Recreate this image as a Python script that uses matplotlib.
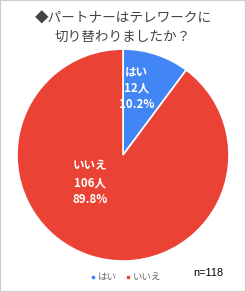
import matplotlib.pyplot as plt
from matplotlib.patches import Rectangle
from matplotlib.lines import Line2D

plt.rcParams['font.family'] = ['Noto Sans CJK JP', 'DejaVu Sans']

labels = ["はい", "いいえ"]
counts = [12, 106]
percents = ["10.2%", "89.8%"]
colors = ["#4285F4", "#EA4335"]
title = "◆パートナーはテレワークに\n切り替わりましたか？"
total_label = "n=118"

fig = plt.figure(figsize=(2.46, 2.92), dpi=100)
fig.patches.append(Rectangle((0, 0), 1, 1, transform=fig.transFigure,
                             fill=False, edgecolor="#cccccc", linewidth=1.5))

ax = fig.add_axes([0.069, 0.106, 0.862, 0.726])
wedges, texts = ax.pie(counts, colors=colors, startangle=90, counterclock=False,
                       wedgeprops=dict(edgecolor="white", linewidth=1.2))
ax.set_xlim(-1, 1)
ax.set_ylim(-1, 1)
ax.set_aspect("auto")

# label positions (data units, pie radius = 1)
label_pos = [(0.13, 0.63), (-0.31, -0.26)]
for lab, n, pct, (x, y) in zip(labels, counts, percents, label_pos):
    ax.text(x, y, f"{lab}\n{n}人\n{pct}", ha="center", va="center",
            color="white", fontsize=8.3, fontweight="bold", linespacing=1.35)

fig.text(0.5, 0.905, title, ha="center", va="center", fontsize=9.8,
         color="#444444", linespacing=1.4)

handles = [Line2D([], [], marker="s", linestyle="", color=c, markersize=2)
           for c in colors]
fig.legend(handles, labels, loc="center", bbox_to_anchor=(0.51, 0.05),
           ncol=2, frameon=False, fontsize=6.8, labelcolor="#666666",
           handletextpad=0.1, columnspacing=0.8, handlelength=0.8)

fig.text(0.785, 0.065, total_label, ha="left", va="center", fontsize=7.8,
         family=["Liberation Sans"], color="black")

fig.savefig("out.png", dpi=100)
